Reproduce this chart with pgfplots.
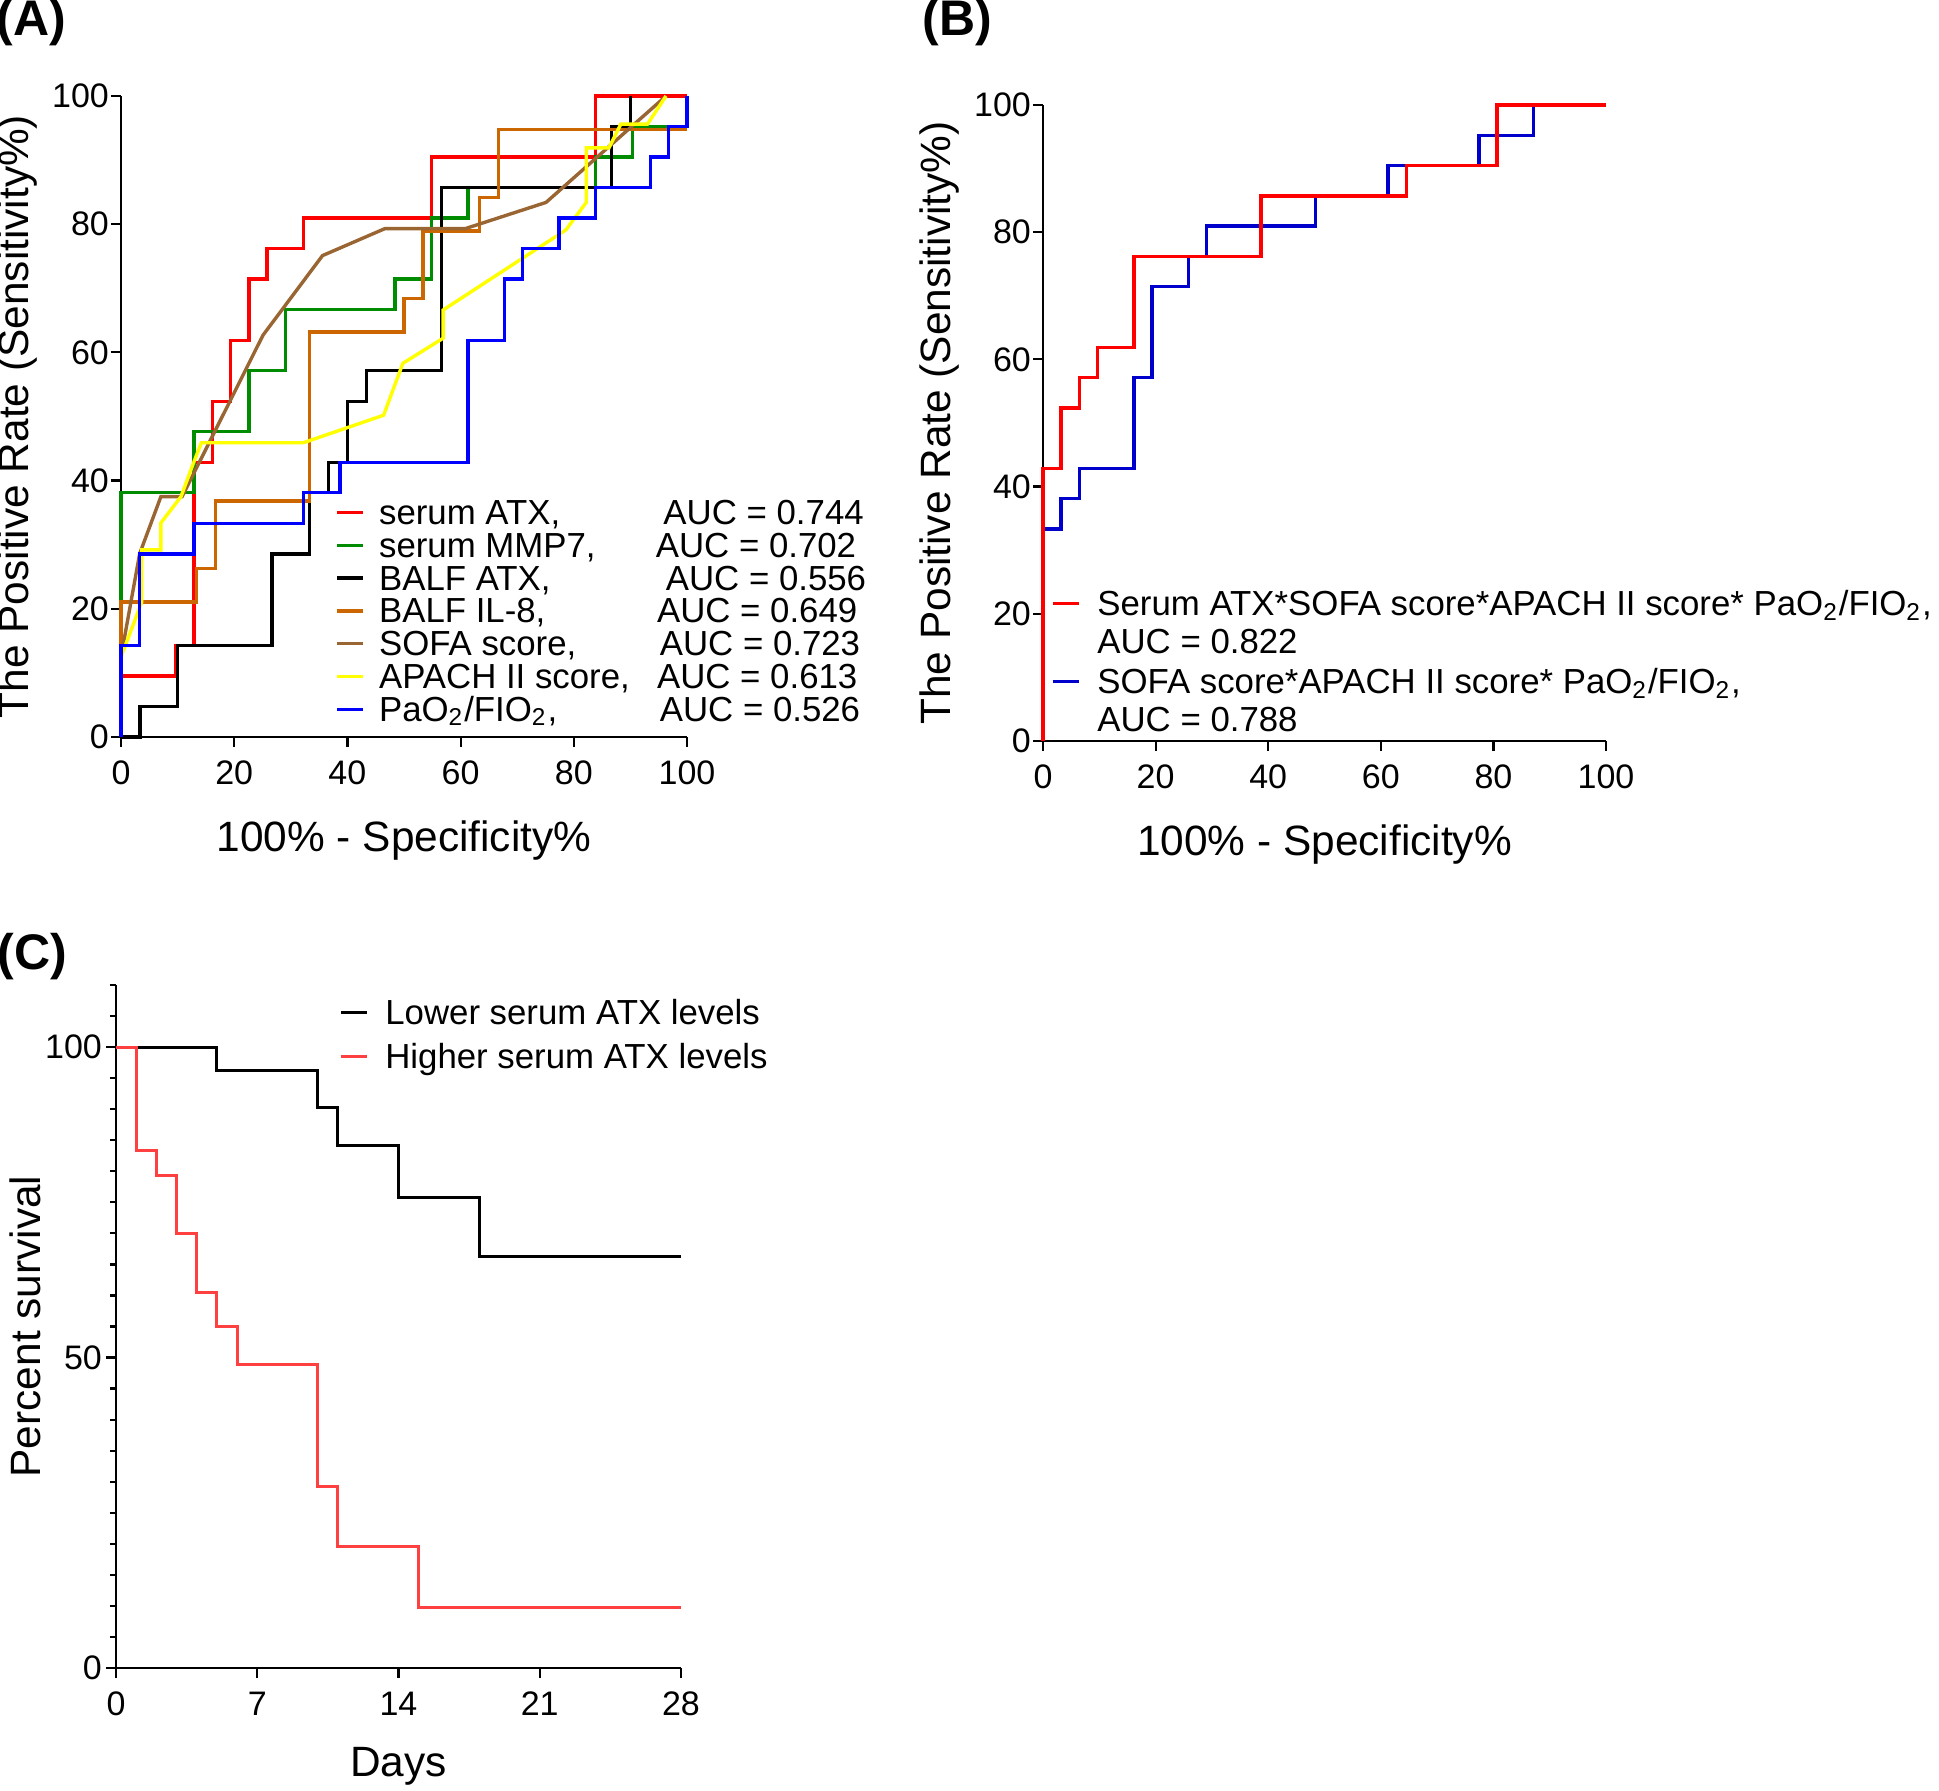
\documentclass[border=0pt]{standalone}
\usepackage{fontspec}
\setmainfont{Liberation Sans}
\usepackage{pgfplots}
\pgfplotsset{compat=1.18}

\definecolor{cGreen}{RGB}{0,140,0}
\definecolor{cOrange}{RGB}{204,102,0}
\definecolor{cBrown}{RGB}{153,102,51}
\definecolor{cYellow}{RGB}{255,255,0}
\definecolor{cBlue}{RGB}{0,0,255}
\definecolor{cBlueB}{RGB}{0,0,204}
\definecolor{cRedC}{RGB}{255,64,64}

\pgfplotsset{
 myaxis/.style={
  scale only axis,
  axis x line*=bottom, axis y line*=left,
  tick align=outside,
  major tick length=2.5pt, minor tick length=1.5pt,
  every tick/.style={black, line width=0.55pt},
  axis line style={line width=0.6pt},
  /pgf/number format/assume math mode=true,
  tick label style={font=\fontsize{8.5}{9}\selectfont},
  yticklabel style={xshift=3pt},
  label style={font=\fontsize{10.6}{12}\selectfont},
  clip=false,
  legend cell align=left,
  legend image code/.code={\draw[##1] (0pt,3pt) -- (6.5pt,3pt);},
  every axis plot/.append style={line width=0.85pt},
 }
}

\begin{document}
\begin{tikzpicture}
\useasboundingbox (0pt,0pt) rectangle (484.75pt,447.5pt);

\node[font=\bfseries\fontsize{12.5}{14}\selectfont] at (7.9pt,441.9pt) {(A)};
\node[font=\bfseries\fontsize{12.5}{14}\selectfont] at (239.4pt,441.8pt) {(B)};
\node[font=\bfseries\fontsize{12.5}{14}\selectfont] at (8.1pt,208.25pt) {(C)};

% ---------------- Panel A ----------------
\begin{axis}[myaxis,
  at={(30.25pt,263.25pt)}, anchor=south west,
  width=141.5pt, height=160.25pt,
  xmin=0, xmax=100, ymin=0, ymax=100,
  xtick={0,20,...,100}, ytick={0,20,...,100},
  xlabel={100\% - Specificity\%},
  ylabel={The Positive Rate (Sensitivity\%)},
  xlabel style={at={(axis description cs:0.5,-0.162)}, anchor=center},
  ylabel style={at={(axis description cs:-0.182,0.5)}, anchor=center},
  legend style={at={(axis description cs:0.379,0.37)}, anchor=north west,
    draw=none, fill=none, inner sep=0pt, outer sep=0pt,
    column sep=3.4pt, row sep=0pt,
    font=\fontsize{8.7}{9}\selectfont,
    cells={anchor=base west},
    nodes={inner sep=0.15pt, text height=6pt, text depth=1.9pt}},
]
\addplot[red] coordinates {(0,0)(0,9.52)(9.68,9.52)(9.68,14.29)(12.9,14.29)(12.9,42.86)(16.13,42.86)(16.13,52.38)(19.35,52.38)(19.35,61.9)(22.58,61.9)(22.58,71.43)(25.81,71.43)(25.81,76.19)(32.26,76.19)(32.26,80.95)(54.84,80.95)(54.84,90.48)(83.87,90.48)(83.87,100)(100,100)};
\addlegendentry{\makebox[71.1pt][l]{serum ATX,}AUC = 0.744}
\addplot[cGreen] coordinates {(0,0)(0,38.1)(12.9,38.1)(12.9,47.62)(22.58,47.62)(22.58,57.14)(29.03,57.14)(29.03,66.67)(48.39,66.67)(48.39,71.43)(54.84,71.43)(54.84,80.95)(61.29,80.95)(61.29,85.71)(83.87,85.71)(83.87,90.48)(90.32,90.48)(90.32,95.24)(100,95.24)};
\addlegendentry{\makebox[69.2pt][l]{serum MMP7,}AUC = 0.702}
\addplot[black] coordinates {(0,0)(3.33,0)(3.33,4.76)(10,4.76)(10,14.29)(26.67,14.29)(26.67,28.57)(33.33,28.57)(33.33,38.1)(36.67,38.1)(36.67,42.86)(40,42.86)(40,52.38)(43.33,52.38)(43.33,57.14)(56.67,57.14)(56.67,85.71)(86.67,85.71)(86.67,95.24)(90,95.24)(90,100)};
\addlegendentry{\makebox[71.7pt][l]{BALF ATX,}AUC = 0.556}
\addplot[cOrange] coordinates {(0,0)(0,21.05)(13.33,21.05)(13.33,26.32)(16.67,26.32)(16.67,36.84)(33.33,36.84)(33.33,63.16)(50,63.16)(50,68.42)(53.33,68.42)(53.33,78.95)(63.33,78.95)(63.33,84.21)(66.67,84.21)(66.67,94.74)(100,94.74)};
\addlegendentry{\makebox[69.5pt][l]{BALF IL-8,}AUC = 0.649}
\addplot[cBrown] coordinates {(0,12.5)(3.3,28.6)(7.05,37.5)(10.8,37.5)(25.1,62.7)(35.6,75.1)(46.6,79.3)(60.8,79.3)(75.1,83.4)(96.3,100)};
\addlegendentry{\makebox[70.2pt][l]{SOFA score,}AUC = 0.723}
\addplot[cYellow] coordinates {(0,12.5)(3.66,21)(3.66,29.2)(7.05,29.2)(7.05,33.4)(10.6,37.5)(12.7,42.5)(14.2,45.9)(32.2,45.9)(46.4,50.2)(49.8,58.3)(56.9,62.2)(56.9,66.6)(78.6,79.1)(82.2,83.4)(82.2,91.9)(86.2,91.9)(88.3,95.6)(93,95.6)(96.3,100)};
\addlegendentry{\makebox[69.5pt][l]{APACH II score,}AUC = 0.613}
\addplot[cBlue] coordinates {(0,0)(0,14.29)(3.23,14.29)(3.23,28.57)(12.9,28.57)(12.9,33.33)(32.26,33.33)(32.26,38.1)(38.71,38.1)(38.71,42.86)(61.29,42.86)(61.29,61.9)(67.74,61.9)(67.74,71.43)(70.97,71.43)(70.97,76.19)(77.42,76.19)(77.42,80.95)(83.87,80.95)(83.87,85.71)(93.55,85.71)(93.55,90.48)(96.77,90.48)(96.77,95.24)(100,95.24)(100,100)};
\addlegendentry{\makebox[70.2pt][l]{PaO\textsubscript{2}/FIO\textsubscript{2},}AUC = 0.526}
\end{axis}

% ---------------- Panel B ----------------
\begin{axis}[myaxis,
  at={(260.75pt,262.25pt)}, anchor=south west,
  width=140.75pt, height=159pt,
  xmin=0, xmax=100, ymin=0, ymax=100,
  xtick={0,20,...,100}, ytick={0,20,...,100},
  xlabel={100\% - Specificity\%},
  ylabel={The Positive Rate (Sensitivity\%)},
  xlabel style={at={(axis description cs:0.5,-0.1635)}, anchor=center},
  ylabel style={at={(axis description cs:-0.183,0.5)}, anchor=center},
  reverse legend,
  legend style={at={(axis description cs:0.0142,0.2406)}, anchor=north west,
    draw=none, fill=none, inner sep=0pt, outer sep=0pt,
    column sep=4pt, row sep=0pt,
    font=\fontsize{8.7}{9.5}\selectfont,
    cells={anchor=base west},
    nodes={inner sep=0.25pt, text depth=, text height=}},
]
\addplot[cBlueB] coordinates {(0,0)(0,33.33)(3.23,33.33)(3.23,38.1)(6.45,38.1)(6.45,42.86)(16.13,42.86)(16.13,57.14)(19.35,57.14)(19.35,71.43)(25.81,71.43)(25.81,76.19)(29.03,76.19)(29.03,80.95)(48.39,80.95)(48.39,85.71)(61.29,85.71)(61.29,90.48)(77.42,90.48)(77.42,95.24)(87.1,95.24)(87.1,100)};
\addlegendentry{\begin{tabular}[t]{@{}l@{}}SOFA score*APACH II score* PaO\textsubscript{2}/FIO\textsubscript{2},\\AUC = 0.788\end{tabular}}
\addplot[red] coordinates {(0,0)(0,42.86)(3.23,42.86)(3.23,52.38)(6.45,52.38)(6.45,57.14)(9.68,57.14)(9.68,61.9)(16.13,61.9)(16.13,76.19)(38.71,76.19)(38.71,85.71)(64.52,85.71)(64.52,90.48)(80.65,90.48)(80.65,100)(100,100)};
\addlegendentry{\begin{tabular}[t]{@{}l@{}}Serum ATX*SOFA score*APACH II score* PaO\textsubscript{2}/FIO\textsubscript{2},\\AUC = 0.822\end{tabular}}
\end{axis}

% ---------------- Panel C ----------------
\begin{axis}[myaxis,
  at={(29pt,30.5pt)}, anchor=south west,
  width=141.25pt, height=170.75pt,
  xmin=0, xmax=28, ymin=0, ymax=110,
  xtick={0,7,14,21,28}, ytick={0,50,100},
  minor ytick={5,10,15,20,25,30,35,40,45,55,60,65,70,75,80,85,90,95,105,110},
  yticklabel style={xshift=-0.5pt},
  every axis plot/.append style={line width=0.75pt},
  xlabel={Days},
  ylabel={Percent survival},
  xlabel style={at={(axis description cs:0.5,-0.1435)}, anchor=center},
  ylabel style={at={(axis description cs:-0.161,0.5)}, anchor=center},
  legend style={at={(axis description cs:0.396,0.9824)}, anchor=north west,
    draw=none, fill=none, inner sep=0pt, outer sep=0pt,
    column sep=4pt, row sep=0pt,
    font=\fontsize{8.7}{9}\selectfont,
    cells={anchor=base west},
    nodes={inner sep=0.15pt, text height=6.6pt, text depth=4.1pt}},
]
\addplot[black] coordinates {(0,100)(5,100)(5,96.2)(10,96.2)(10,90.2)(11,90.2)(11,84.1)(14,84.1)(14,75.7)(18,75.7)(18,66.2)(28,66.2)};
\addlegendentry{Lower serum ATX levels}
\addplot[cRedC] coordinates {(0,100)(1,100)(1,83.4)(2,83.4)(2,79.3)(3,79.3)(3,69.9)(4,69.9)(4,60.4)(5,60.4)(5,55)(6,55)(6,48.9)(10,48.9)(10,29.3)(11,29.3)(11,19.5)(15,19.5)(15,9.7)(28,9.7)};
\addlegendentry{Higher serum ATX levels}
\end{axis}
\end{tikzpicture}
\end{document}
